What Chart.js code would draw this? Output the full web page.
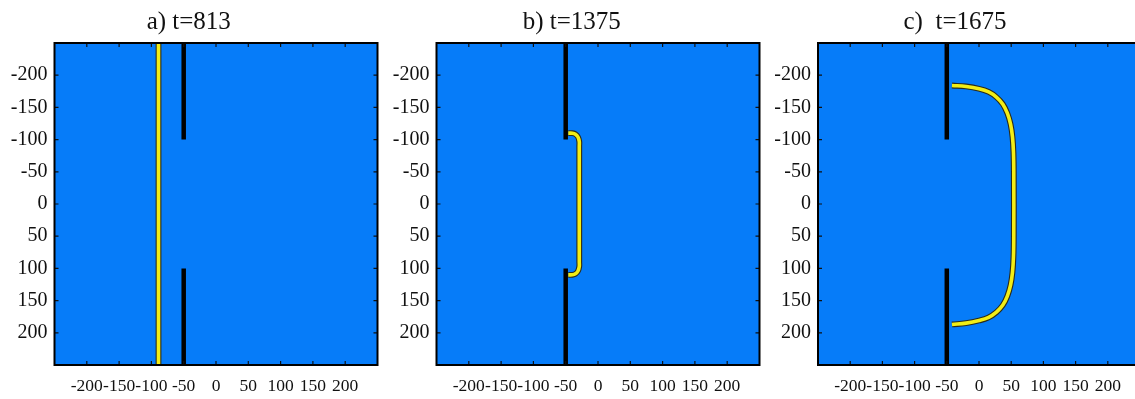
<!DOCTYPE html>
<html>
<head>
<meta charset="utf-8">
<script src="https://cdn.jsdelivr.net/npm/chart.js@4.4.0/dist/chart.umd.min.js"></script>
<style>
  html, body { margin: 0; padding: 0; background: #fff; overflow: hidden; }
  body { width: 1135px; height: 399px; position: relative; }
  .panel { position: absolute; top: 0; height: 399px; }
</style>
</head>
<body>
<div class="panel" style="left:0;width:384px"><canvas id="chartA"></canvas></div>
<div class="panel" style="left:384px;width:448px"><canvas id="chartB"></canvas></div>
<div class="panel" style="left:770px;width:435px"><canvas id="chartC"></canvas></div>
<script>
  // axis ticks (y axis runs downward: -200 at the top)
  const xTicks = [-200, -150, -100, -50, 0, 50, 100, 150, 200];
  const yTicks = [-200, -150, -100, -50, 0, 50, 100, 150, 200];
  const titles = ["a) t=813", "b) t=1375", "c)  t=1675"];

  // the barrier: a wall at x=-50 with a slit between -100 and 100
  const wallX = [-50, -50];
  const wallUpperY = [-250, -100];
  const wallLowerY = [100, 250];

  // wave front positions
  const frontAx = [-89, -89];
  const frontAy = [-250, 250];

  const frontBx = [-46, -40, -35, -31, -29, -29, -29, -29, -31, -35, -40, -46];
  const frontBy = [-110, -110, -108.5, -104, -97, -90, 90, 97, 104, 108.5, 110, 110];

  const frontCx = [-42, -20, 0, 15, 27, 37, 44, 49, 52, 53.5, 54, 54, 53.5, 52, 49, 44, 37, 27, 15, 0, -20, -42];
  const frontCy = [-184, -182.5, -179, -174, -166, -155, -141, -124, -104, -80, -50, 50, 82, 106, 126, 143, 157, 168, 176, 181, 185, 187];

  const blue = "rgb(6,124,249)";
  const serif = "'Liberation Serif', 'Times New Roman', serif";

  function pts(xs, ys) {
    return xs.map((x, i) => ({ x: x, y: ys[i] }));
  }

  const panelBg = {
    id: "panelBg",
    beforeDatasetsDraw(chart) {
      const a = chart.chartArea;
      const ctx = chart.ctx;
      ctx.save();
      ctx.fillStyle = blue;
      ctx.fillRect(a.left, a.top, a.right - a.left, a.bottom - a.top);
      ctx.restore();
    }
  };

  // box around the plot with small inward tick marks on all four sides
  const frame = {
    id: "frame",
    afterDraw(chart) {
      const a = chart.chartArea;
      const ctx = chart.ctx;
      const xs = chart.scales.x, ys = chart.scales.y;
      ctx.save();
      ctx.strokeStyle = "#111";
      ctx.lineWidth = 1.2;
      ctx.beginPath();
      xTicks.forEach(v => {
        const px = xs.getPixelForValue(v);
        ctx.moveTo(px, a.top); ctx.lineTo(px, a.top + 4);
        ctx.moveTo(px, a.bottom); ctx.lineTo(px, a.bottom - 4);
      });
      yTicks.forEach(v => {
        const py = ys.getPixelForValue(v);
        ctx.moveTo(a.left, py); ctx.lineTo(a.left + 4, py);
        ctx.moveTo(a.right, py); ctx.lineTo(a.right - 4, py);
      });
      ctx.stroke();
      ctx.lineWidth = 2;
      ctx.strokeStyle = "#000";
      ctx.strokeRect(a.left, a.top, a.right - a.left, a.bottom - a.top);
      ctx.restore();
    }
  };

  function makeChart(id, title, fx, fy, yWidth, padRight) {
    const line = { showLine: true, pointRadius: 0, fill: false, tension: 0.4 };
    new Chart(document.getElementById(id), {
      type: "scatter",
      data: {
        datasets: [
          Object.assign({ data: pts(fx, fy), borderColor: "#f2ee16", borderWidth: 3.6, order: 0 }, line),
          Object.assign({ data: pts(fx, fy), borderColor: "#2b2b1a", borderWidth: 5.8, order: 1 }, line),
          Object.assign({ data: pts(wallX, wallUpperY), borderColor: "#000", borderWidth: 4.5, order: 2 }, line, { tension: 0 }),
          Object.assign({ data: pts(wallX, wallLowerY), borderColor: "#000", borderWidth: 4.5, order: 2 }, line, { tension: 0 })
        ]
      },
      options: {
        responsive: true,
        maintainAspectRatio: false,
        animation: false,
        layout: { padding: { left: 0, right: padRight, top: 0, bottom: 0 } },
        plugins: {
          legend: { display: false },
          tooltip: { enabled: false },
          title: {
            display: true,
            text: title,
            color: "#111",
            font: { family: serif, size: 25, weight: "normal" },
            padding: { top: 7, bottom: 6 }
          }
        },
        scales: {
          x: {
            type: "linear",
            min: -250,
            max: 250,
            grid: { display: false, drawTicks: false },
            border: { display: false },
            ticks: {
              color: "#111", padding: 11, font: { family: serif, size: 17.5 },
              autoSkip: false, maxRotation: 0, minRotation: 0
            },
            afterBuildTicks: s => { s.ticks = xTicks.map(v => ({ value: v })); },
            afterFit: s => { s.height = 34; }
          },
          y: {
            type: "linear",
            reverse: true,
            min: -250,
            max: 250,
            grid: { display: false, drawTicks: false },
            border: { display: false },
            ticks: { color: "#111", padding: 7, font: { family: serif, size: 20 }, autoSkip: false },
            afterBuildTicks: s => { s.ticks = yTicks.map(v => ({ value: v })); },
            afterFit: s => { s.width = yWidth; }
          }
        }
      },
      plugins: [panelBg, frame]
    });
  }

  makeChart("chartA", titles[0], frontAx, frontAy, 54.5, 6.5);
  makeChart("chartB", titles[1], frontBx, frontBy, 52.5, 72.5);
  makeChart("chartC", titles[2], frontCx, frontCy, 48, 65);
</script>
</body>
</html>
